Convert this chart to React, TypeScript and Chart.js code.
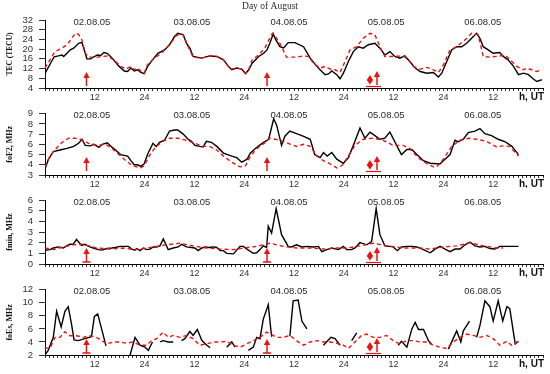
import React, { useEffect, useRef } from 'react';
import { Chart, registerables } from 'chart.js';
Chart.register(...registerables);

// ---- data (hour UT from 02.08.05 00:00, value) ----
const dayLabels = ['02.08.05', '03.08.05', '04.08.05', '05.08.05', '06.08.05'];
const dayLabelHours = [11.3, 35.4, 58.8, 82.2, 105.5];
const arrowHours = [10, 53.5];
const diamondHour = 78.3;
const stormArrowHour = 80;

const tecObs: [number, number][] = [[0,10],[1.6,15],[2.2,16.8],[3.2,17.2],[4.1,17.6],[4.5,17],[5.3,18.3],[6.1,19.7],[6.9,20.4],[8.1,22.4],[8.9,22.8],[9.7,18.3],[10.1,16],[11,16],[12.6,17.6],[13.4,17.4],[14.2,18.6],[15,18.3],[16.2,16.3],[17.8,13],[19.1,11],[19.9,10.8],[20.7,12.2],[21.5,11],[22.3,11.5],[23.1,10.4],[23.9,9.9],[24.7,12.8],[25.9,15.6],[27.2,18.3],[28.8,19.7],[30,21.8],[31.2,25.2],[32,26.5],[33.3,25.9],[34.1,22.4],[34.9,20.4],[35.7,17],[37.7,16.3],[39.7,17.2],[41.4,17],[43,15.6],[44.2,12.9],[45,11.5],[46.2,12.2],[47.4,11.8],[48.3,9.9],[49.1,11.5],[49.9,14.2],[51.5,17],[52.7,18.3],[53.5,19.7],[54.2,22.5],[55,26.3],[55.4,24.5],[56.6,21],[57.5,20.5],[58.6,22.7],[60.2,22.7],[62.3,21],[63.9,16.3],[65.5,12.9],[66.7,10.8],[67.5,9.5],[68.3,9.8],[69.1,11],[70.3,9.5],[71.1,7.8],[71.9,10.1],[73.1,14.9],[74.3,19],[75.5,21],[76.7,20.4],[77.9,21.8],[79.5,22.4],[80.7,20.4],[81.9,17.6],[83.1,19],[84.3,17],[85.5,16.3],[86.7,17.2],[87.9,14.9],[89.2,12.2],[90.4,10.8],[92,10.1],[93.6,10.4],[94.8,8.5],[95.6,10.1],[96.8,14.9],[98,19.7],[99.2,21],[100.4,21],[101.6,22.4],[102.8,24.5],[104,26.5],[104.8,24.5],[105.6,21],[106.8,19.7],[108,18.3],[109.6,18.6],[110.4,17],[111.6,15.6],[112.9,12.9],[114.1,9.5],[115.3,10.1],[116.5,9.5],[117.7,7.7],[118.5,6.7],[119.7,7.4]];
const tecMed: [number, number][] = [[0,12.2],[1.2,15.6],[2.4,19],[4.1,20.4],[5.3,21.8],[6.5,24.5],[7.3,26.5],[8.1,26.1],[8.9,23.8],[9.7,18.3],[10.5,16.7],[12.6,16.7],[15,17.2],[16.6,15.6],[18.2,12.9],[19.5,11.9],[20.7,12.9],[21.5,11.5],[22.3,12.2],[23.1,11],[23.9,10.1],[24.7,13.5],[25.9,15.6],[28,18.3],[30,21.8],[31.6,25.5],[32.6,26.3],[33.3,26],[34.5,21],[35.7,16.7],[37.7,16.3],[39.7,17.2],[41.4,17],[43,15.6],[44.2,12.9],[45,11.8],[46.2,12.2],[47.4,11.8],[48.3,10.1],[49.1,11.5],[49.9,15.6],[51.5,17.6],[53,20.5],[54,24],[54.8,26.5],[55.4,25.5],[56.6,22.4],[58.2,16.7],[60.6,16.7],[62.3,17.2],[63.5,17],[64.7,14.2],[66.3,12.2],[67.5,12.9],[68.7,11.8],[69.9,11.5],[71.1,10.4],[72.3,14.9],[73.5,19.7],[75.1,21],[76.7,24.5],[78.3,26.5],[79.5,25.9],[80.7,21],[81.9,17],[83.9,17],[86.3,17.2],[87.5,15.8],[88.8,12.9],[90.4,11.8],[92,12.5],[93.6,11.5],[94.8,10.4],[96,13.5],[97.6,19.7],[99.2,21],[101.2,23.8],[102.8,26.5],[104.4,25.9],[105.6,17],[107.2,16.7],[109.6,17.2],[110.8,17.6],[112.1,15.6],[113.7,12.9],[115.3,11.5],[116.1,12.2],[117.3,11.5],[118.5,10.8],[119.7,11.5]];

const foF2Obs: [number, number][] = [[0,3.6],[0.8,4.5],[2,5.3],[3.6,5.45],[5.3,5.6],[6.9,5.8],[8.1,6.1],[8.9,6.5],[9.7,5.9],[10.9,5.85],[11.8,6],[13,5.7],[13.8,6],[15,6.15],[16.2,5.7],[17,5.45],[18.2,5],[19.9,4.85],[20.7,4.4],[21.5,4],[22.3,4],[23.1,3.85],[23.9,4.1],[24.7,5],[26,6.1],[26.8,5.8],[27.6,6.2],[28.8,6.4],[30,7.3],[31.2,7.4],[32,7.4],[33.3,7],[34.5,6.5],[35.3,6.3],[36.1,5.9],[37.3,5.8],[38.1,5.75],[38.9,6.3],[40.1,6.2],[41.4,5.8],[43,5.15],[45,4.85],[46.2,4.7],[47.4,4.25],[48.7,4.55],[49.5,5.15],[50.7,5.6],[52.3,6.1],[53.9,6.5],[55.1,8.5],[55.8,7.9],[57,5.9],[57.8,6.8],[59,7.3],[60.6,7.05],[62.2,6.8],[63.9,6.5],[65,5],[66.3,4.7],[67.1,5.2],[68,4.85],[69.1,5.2],[70.3,4.55],[71.9,4.15],[73.1,4.7],[74.3,5.9],[75.9,7.6],[77.1,6.6],[78.3,7.2],[79.5,6.85],[80.7,6.5],[81.9,6.6],[83.1,7.2],[84.3,6.25],[85.1,5.6],[85.9,5],[87.2,5.5],[88.4,5.5],[89.6,5],[91.2,4.4],[92.8,4.15],[94.4,4.1],[95.2,4.1],[96.4,4.55],[97.6,5],[98.8,6.4],[99.6,6.25],[100.8,6.5],[102,7.15],[103.6,7.3],[104.8,7.55],[106,7.05],[107.6,6.85],[109.2,6.5],[110.9,6.25],[112.5,5.8],[114.1,5]];
const foF2Med: [number, number][] = [[0,3.8],[1.2,4.85],[2.4,5.45],[4.1,6.2],[5.7,6.6],[7.3,6.6],[8.9,6.45],[10.5,6.1],[12.6,5.9],[14.6,6],[16.2,5.6],[17.8,5],[19.5,4.4],[21.1,3.9],[23.1,3.7],[23.9,3.9],[25.1,4.85],[26.4,5.6],[28,6.2],[30,6.6],[32,6.6],[34.1,6.4],[36.1,6.1],[38.1,5.8],[39.7,5.8],[41.4,5.45],[43,4.85],[45,4.25],[47,3.8],[48.3,3.9],[49.5,4.85],[51.1,5.6],[53.1,6.2],[54.2,6.6],[56.6,6.4],[58.6,6.1],[60.6,5.8],[62.3,6],[63.9,5.8],[65.5,4.85],[67.1,4.4],[68.7,4.1],[70.3,3.7],[71.5,3.9],[73.1,4.85],[74.7,5.9],[76.7,6.5],[79.1,6.6],[81.5,6.4],[83.9,5.9],[86.3,5.9],[87.9,5.6],[89.9,4.7],[92,4.1],[93.6,3.8],[94.4,3.8],[96,4.55],[98,5.8],[100,6.4],[102,6.6],[104,6.5],[106.4,6.3],[108.8,5.75],[110.4,5.85],[112,5.8],[114.1,4.85]];

const fminObs: [number, number][] = [[0,1.4],[0.4,1.3],[1.2,1.35],[2,1.5],[3.2,1.6],[4.4,1.5],[5.2,1.7],[6,1.85],[6.8,1.85],[7.6,2.3],[8.8,1.75],[9.6,1.85],[10.8,1.6],[12,1.45],[12.9,1.35],[13.7,1.3],[14.9,1.45],[16.1,1.5],[16.9,1.55],[18.1,1.65],[19.3,1.65],[20.1,1.65],[20.9,1.4],[21.7,1.3],[22.1,1.45],[22.9,1.25],[23.7,1.5],[24.5,1.35],[25.3,1.4],[26.1,1.6],[26.9,1.6],[27.7,1.7],[28.5,2.35],[29.7,1.35],[30.9,1.5],[32.1,1.6],[32.9,1.85],[34.1,1.6],[35.3,1.55],[36.1,1.5],[36.9,1.25],[37.8,1.5],[38.6,1.6],[39.4,1.55],[40.6,1.6],[41.4,1.55],[42.2,1.25],[43,1.25],[43.8,1],[45.4,0.95],[46.2,1.3],[47,1.65],[47.8,1.65],[49,1.3],[50.2,1],[51,1.05],[51.8,1.35],[52.6,1.7],[53.4,1.55],[53.8,3.55],[54.6,2.9],[55.7,5.2],[57,2.75],[58.6,1.65],[59.4,1.6],[60.6,1.8],[61.9,1.6],[63.1,1.65],[64.7,1.6],[65.9,1.65],[66.7,1.15],[67.9,1.35],[69.1,1.5],[70.7,1.35],[71.9,1.65],[72.7,1.35],[73.9,1.35],[74.7,1.5],[75.9,2],[77.5,1.8],[78.7,2.1],[79.8,5.2],[80.7,2.75],[81.9,1.7],[83.1,1.65],[83.9,1.6],[84.9,1.25],[85.9,1.6],[87.2,1.65],[88.4,1.65],[89.6,1.6],[91.2,1.35],[92.8,1.05],[94,1.4],[95.2,1.65],[96.4,1.4],[97.6,1.15],[98.8,1.4],[100,1.4],[101.2,1.8],[102.4,2.05],[103.6,1.7],[104.8,1.6],[106,1.65],[107.2,1.45],[108.4,1.4],[109.6,1.65],[114.1,1.65]];
const fminMed: [number, number][] = [[0,1.5],[2.1,1.35],[4.4,1.6],[6.8,1.8],[9.2,1.85],[12.4,1.5],[15.7,1.4],[18.9,1.5],[21.3,1.35],[22.9,1.4],[26.1,1.6],[29.3,1.8],[32.5,1.95],[35.7,1.7],[38.9,1.5],[42.2,1.4],[45.4,1.35],[47.8,1.5],[51,1.65],[54.2,1.95],[57.4,1.65],[60.6,1.5],[63.9,1.5],[67.1,1.4],[70.3,1.5],[72.7,1.5],[75.9,1.7],[79.1,1.95],[82.3,1.7],[86.3,1.5],[90.4,1.5],[92.8,1.4],[96,1.6],[99.2,1.7],[102.4,2],[105.6,1.7],[108.8,1.5],[110.4,1.5]];

const foEsObs: [number, number | null][] = [[0,2],[0.8,2.75],[2,4.7],[2.8,8.7],[3.9,6.3],[4.8,8.7],[5.6,9.4],[6.4,6.7],[7,4.3],[8,4.2],[9.6,4.5],[11.2,4.8],[11.9,7.9],[12.7,8.3],[14.7,3.4],[17,null],[20.5,2],[21.7,4.7],[22.9,3.5],[24.1,3.2],[24.9,2.7],[25.9,4],[26.8,null],[27.7,4],[28.5,4.2],[29.7,4],[30.9,4],[32,null],[32.9,4.2],[33.7,4.5],[34.9,5.6],[35.7,5],[36.7,5.9],[37.8,4.2],[39,3.5],[39.8,3.1],[42,null],[43.8,3.2],[45,4],[45.8,3.2],[47,null],[49,2.7],[50.2,3.2],[51,4.7],[51.8,4.5],[52.6,7.5],[53.8,9.7],[54.6,4.8],[57,null],[59,4.9],[59.8,10.3],[61,10.4],[61.9,7.2],[63.1,6],[65,null],[67.1,3.5],[68.9,4.7],[69.9,4.5],[71.1,3.5],[72.5,null],[73.9,4.2],[75.1,5.4],[80,null],[85.1,3.5],[85.9,4.1],[87.2,3.2],[88.4,6],[89.2,7],[90,5.9],[91.2,5.9],[92.4,4.2],[93.2,3.6],[95,null],[97.2,2.9],[99.2,5.7],[100.2,4],[100.8,5.7],[102.3,7.2],[103,null],[104,4.7],[104.8,6.5],[106,10.3],[107.2,9.4],[108,7.2],[109.2,10.3],[110.3,7.2],[111.3,9.4],[112,9.1],[113.3,3.7],[114.1,4.1]];
const foEsMed: [number, number][] = [[0,3.1],[1.2,3],[2.4,4.7],[3.6,4.7],[4.8,5.55],[6,4.95],[7.6,4.95],[9.2,4.7],[10.8,4.95],[12.4,4.7],[13.7,4.2],[14.9,3.7],[16.5,4],[18.1,4],[19.7,3.8],[21.3,4],[22.9,3.5],[24.5,3.5],[25.7,4.2],[26.9,4.5],[28.5,5.5],[29.7,4.7],[30.9,5],[32.5,4.7],[34.1,5],[35.7,4.5],[37.3,3.5],[39,3.7],[40.6,4],[42.2,4],[43.8,4.1],[45.4,3.5],[47,3.2],[48.6,3.7],[50.2,4.2],[51.8,4.7],[53.4,5.5],[55,5],[55.8,4.7],[57.4,4.7],[59,5],[60.6,4.2],[62.3,3.5],[63.9,4],[65.5,4.2],[67.1,4],[68.7,4],[70.3,3.8],[71.9,3.5],[73.1,3],[74.7,4],[76.3,5],[77.5,5.2],[79.1,4.7],[80.7,4.7],[82.3,5],[83.9,4.2],[85.5,3.7],[87.2,4.2],[88.8,4.2],[90.4,4],[92,4],[93.6,3.5],[95.2,3.2],[96.8,3],[98.4,4],[100,4.7],[101.6,5.2],[103.2,5],[104.8,4.7],[106.4,5],[108,4.5],[109.6,3.5],[111.3,4.1],[112.4,3.5],[114.1,4.1]];

const RED = '#ee1111';

type PanelSpec = {
  top: number; height: number; padTop: number; xH: number;
  ymin: number; ymax: number; step: number; title: string; titleSize: number;
  obs: [number, number | null][]; med: [number, number][];
  baseBar: boolean; lift: number; header?: string;
};

const panels: PanelSpec[] = [
  { top: 0, height: 102, padTop: 20, xH: 14, ymin: 4, ymax: 32, step: 4, title: 'TEC (TECU)', titleSize: 7.5, obs: tecObs, med: tecMed, baseBar: false, lift: 0, header: 'Day of August' },
  { top: 102, height: 86, padTop: 8, xH: 13, ymin: 3, ymax: 9, step: 1, title: 'foF2, MHz', titleSize: 8, obs: foF2Obs, med: foF2Med, baseBar: false, lift: 2 },
  { top: 188, height: 90, padTop: 12, xH: 14, ymin: 0, ymax: 6, step: 1, title: 'fmin, MHz', titleSize: 8, obs: fminObs, med: fminMed, baseBar: true, lift: 0 },
  { top: 278, height: 96, padTop: 10, xH: 19, ymin: 2, ymax: 12, step: 2, title: 'foEs, MHz', titleSize: 8, obs: foEsObs, med: foEsMed, baseBar: true, lift: 0 },
];

function drawArrow(ctx: CanvasRenderingContext2D, x: number, base: number, tip: number, bar: boolean) {
  ctx.strokeStyle = RED; ctx.fillStyle = RED; ctx.lineWidth = 1.5;
  ctx.beginPath(); ctx.moveTo(x, base); ctx.lineTo(x, tip + 5); ctx.stroke();
  ctx.beginPath(); ctx.moveTo(x - 3.2, tip + 6); ctx.lineTo(x + 3.2, tip + 6); ctx.lineTo(x, tip); ctx.closePath(); ctx.fill();
  if (bar) { ctx.beginPath(); ctx.moveTo(x - 4, base); ctx.lineTo(x + 4, base); ctx.stroke(); }
}

function Panel({ spec }: { spec: PanelSpec }) {
  const ref = useRef<HTMLCanvasElement | null>(null);
  useEffect(() => {
    if (!ref.current) return;
    const overlay = {
      id: 'overlay',
      afterDraw(chart: any) {
        const ctx: CanvasRenderingContext2D = chart.ctx;
        const xs = chart.scales.x; const ca = chart.chartArea;
        ctx.save();
        ctx.fillStyle = '#2a2a2a'; ctx.textAlign = 'center'; ctx.textBaseline = 'middle';
        ctx.font = '9.5px "Liberation Sans", Arial, sans-serif';
        dayLabels.forEach((t, i) => ctx.fillText(t, xs.getPixelForValue(dayLabelHours[i]), ca.top + 2));
        if (spec.header) {
          ctx.font = '9.5px "Liberation Serif", serif';
          ctx.fillText(spec.header, 270, 6);
        }
        ctx.font = 'bold 10px "Liberation Sans", Arial, sans-serif';
        ctx.fillStyle = '#111'; ctx.textAlign = 'right';
        ctx.fillText('h, UT', 544, ca.bottom + 9);
        // y title
        ctx.save();
        ctx.translate(10, (ca.top + ca.bottom) / 2);
        ctx.rotate(-Math.PI / 2);
        ctx.textAlign = 'center';
        ctx.font = `bold ${spec.titleSize}px "Liberation Serif", serif`;
        ctx.fillText(spec.title, 0, 0);
        ctx.restore();
        // markers
        const b = ca.bottom - spec.lift;
        arrowHours.forEach(h => drawArrow(ctx, xs.getPixelForValue(h), b - 2, b - 16, spec.baseBar));
        const dx = xs.getPixelForValue(diamondHour);
        const ax = xs.getPixelForValue(stormArrowHour);
        drawArrow(ctx, ax, b - 3, b - 17, false);
        ctx.fillStyle = RED;
        ctx.beginPath(); ctx.moveTo(dx, b - 13); ctx.lineTo(dx + 3.2, b - 8); ctx.lineTo(dx, b - 3.5); ctx.lineTo(dx - 3.2, b - 8); ctx.closePath(); ctx.fill();
        ctx.strokeStyle = RED; ctx.lineWidth = 1.2;
        ctx.beginPath(); ctx.moveTo(dx - 4, b - 1.5); ctx.lineTo(ax + 4, b - 1.5); ctx.stroke();
        ctx.restore();
      },
    };
    const chart = new Chart(ref.current, {
      type: 'line',
      data: {
        datasets: [
          { data: spec.med.map(([x, y]) => ({ x, y })), borderColor: RED, borderDash: [4, 3], borderWidth: 1.4, pointRadius: 0, tension: 0, fill: false },
          { data: spec.obs.map(([x, y]) => ({ x, y })), borderColor: '#000', borderWidth: 1.4, pointRadius: 0, tension: 0, spanGaps: false, fill: false },
        ],
      } as any,
      options: {
        animation: false,
        responsive: false,
        layout: { padding: { top: spec.padTop, right: 7, left: 0, bottom: 0 } },
        plugins: { legend: { display: false }, tooltip: { enabled: false } },
        scales: {
          x: {
            type: 'linear', min: 0, max: 120,
            afterFit: (s: any) => { s.height = spec.xH; },
            ticks: {
              stepSize: 1, autoSkip: false, maxRotation: 0, minRotation: 0, padding: 1,
              color: '#333', font: { family: '"Liberation Sans", Arial, sans-serif', size: 9 },
              callback: (v: any) => (v > 0 && v < 120 && v % 12 === 0 ? (v % 24 === 0 ? '24' : '12') : ''),
            },
            grid: { drawOnChartArea: false, drawTicks: true, tickLength: 3, color: '#333' },
            border: { display: true, color: '#000', width: 1 },
          },
          y: {
            type: 'linear', min: spec.ymin, max: spec.ymax,
            afterFit: (s: any) => { s.width = 45; },
            ticks: { stepSize: spec.step, autoSkip: false, padding: 6, color: '#333', font: { family: '"Liberation Sans", Arial, sans-serif', size: 9.5 } },
            grid: { drawOnChartArea: false, drawTicks: true, tickLength: 6, color: '#333' },
            border: { display: true, color: '#000', width: 1 },
          },
        },
      } as any,
      plugins: [overlay],
    });
    return () => chart.destroy();
  }, [spec]);
  return (
    <canvas ref={ref} width={550} height={spec.height}
      style={{ position: 'absolute', left: 0, top: spec.top, width: 550, height: spec.height, display: 'block' }} />
  );
}

export default function App() {
  return (
    <div style={{ position: 'absolute', left: 0, top: 0, width: 550, height: 374, background: '#fff', overflow: 'hidden' }}>
      {panels.map((p, i) => <Panel key={i} spec={p} />)}
    </div>
  );
}
